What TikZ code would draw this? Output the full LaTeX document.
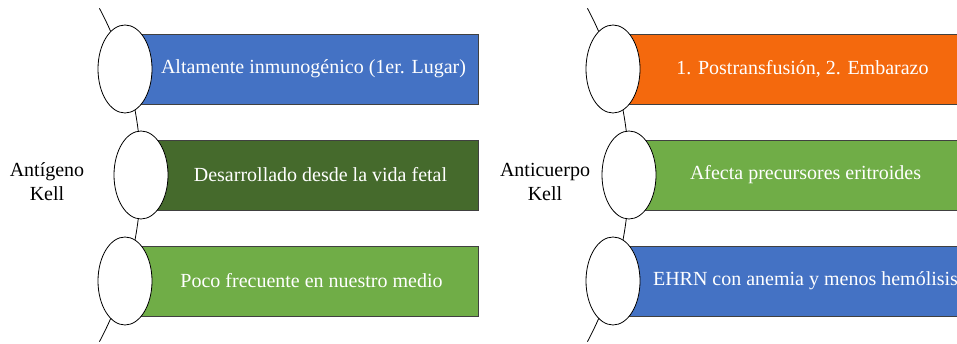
\documentclass[tikz,border=0pt]{standalone}
\usepackage{fontspec}
\setmainfont{Liberation Serif}
\usetikzlibrary{calc, shapes.geometric, positioning}
\usepackage{xcolor}
\definecolor{kellblue}{HTML}{4472C4}
\definecolor{kelldark}{HTML}{456A2C}
\definecolor{kellgreen}{HTML}{70AD47}
\definecolor{kellorange}{HTML}{F4690D}

\begin{document}
\begin{tikzpicture}[x=1pt, y=1pt, font=\fontsize{20}{24}\selectfont]
				\tikzstyle{oval} = [draw=black, line width=0.8pt, fill=white, ellipse, inner sep=0pt, minimum width=54pt, minimum height=88pt]
				\tikzstyle{bar} = [draw=black!75, line width=0.8pt, inner sep=0pt, minimum height=70pt]
				\tikzstyle{bartext} = [text=white, inner sep=0pt]
				\tikzstyle{side} = [align=center, inner sep=0pt]
				
				\useasboundingbox (0,0) rectangle (957,344);
				\clip (0,0) rectangle (957,344);
				
				% Antigeno Kell
				\draw[line width=0.8pt] (-214,169) ++(28:355) arc[start angle=28, end angle=-28, radius=355];
				\node[bar, fill=kellblue,  minimum width=353pt]	at (301.5, 275)	(ag1bar) {};
				\node[bar, fill=kelldark,  minimum width=337pt]	at (309.5, 169)	(ag2bar) {};
				\node[bar, fill=kellgreen, minimum width=353pt]	at (301.5, 63)	(ag3bar) {};
				\node[oval]			at (125, 275)		(ag1)	{};
				\node[oval]			at (141, 169)		(ag2)	{};
				\node[oval]			at (125, 63)		(ag3)	{};
				\node[bartext]		at ([xshift=12pt]ag1bar.center)	(ag1txt)	{Altamente inmunogénico (1er. Lugar)};
				\node[bartext]		at ([xshift=11pt]ag2bar.center)	(ag2txt)	{Desarrollado desde la vida fetal};
				\node[bartext]		at ([xshift=10pt]ag3bar.center)	(ag3txt)	{Poco frecuente en nuestro medio};
				\node[side]			at (47, 162)		(ag)	{Antígeno\\Kell};
				
				% Anticuerpo Kell
				\draw[line width=0.8pt] (274,169) ++(28:355) arc[start angle=28, end angle=-28, radius=355];
				\node[bar, fill=kellorange, minimum width=353pt]	at (789.5, 275)	(ac1bar) {};
				\node[bar, fill=kellgreen,  minimum width=337pt]	at (797.5, 169)	(ac2bar) {};
				\node[bar, fill=kellblue,   minimum width=353pt]	at (789.5, 63)	(ac3bar) {};
				\node[oval]			at (613, 275)		(ac1)	{};
				\node[oval]			at (629, 169)		(ac2)	{};
				\node[oval]			at (613, 63)		(ac3)	{};
				\node[bartext]		at ([xshift=13pt]ac1bar.center)	(ac1txt)	{1. Postransfusión, 2. Embarazo};
				\node[bartext]		at ([xshift=8pt]ac2bar.center)	(ac2txt)	{Afecta precursores eritroides};
				\node[bartext]		at ([xshift=16pt]ac3bar.center)	(ac3txt)	{EHRN con anemia y menos hemólisis};
				\node[side]			at (545, 162)		(ac)	{Anticuerpo\\Kell};
			\end{tikzpicture}
\end{document}
